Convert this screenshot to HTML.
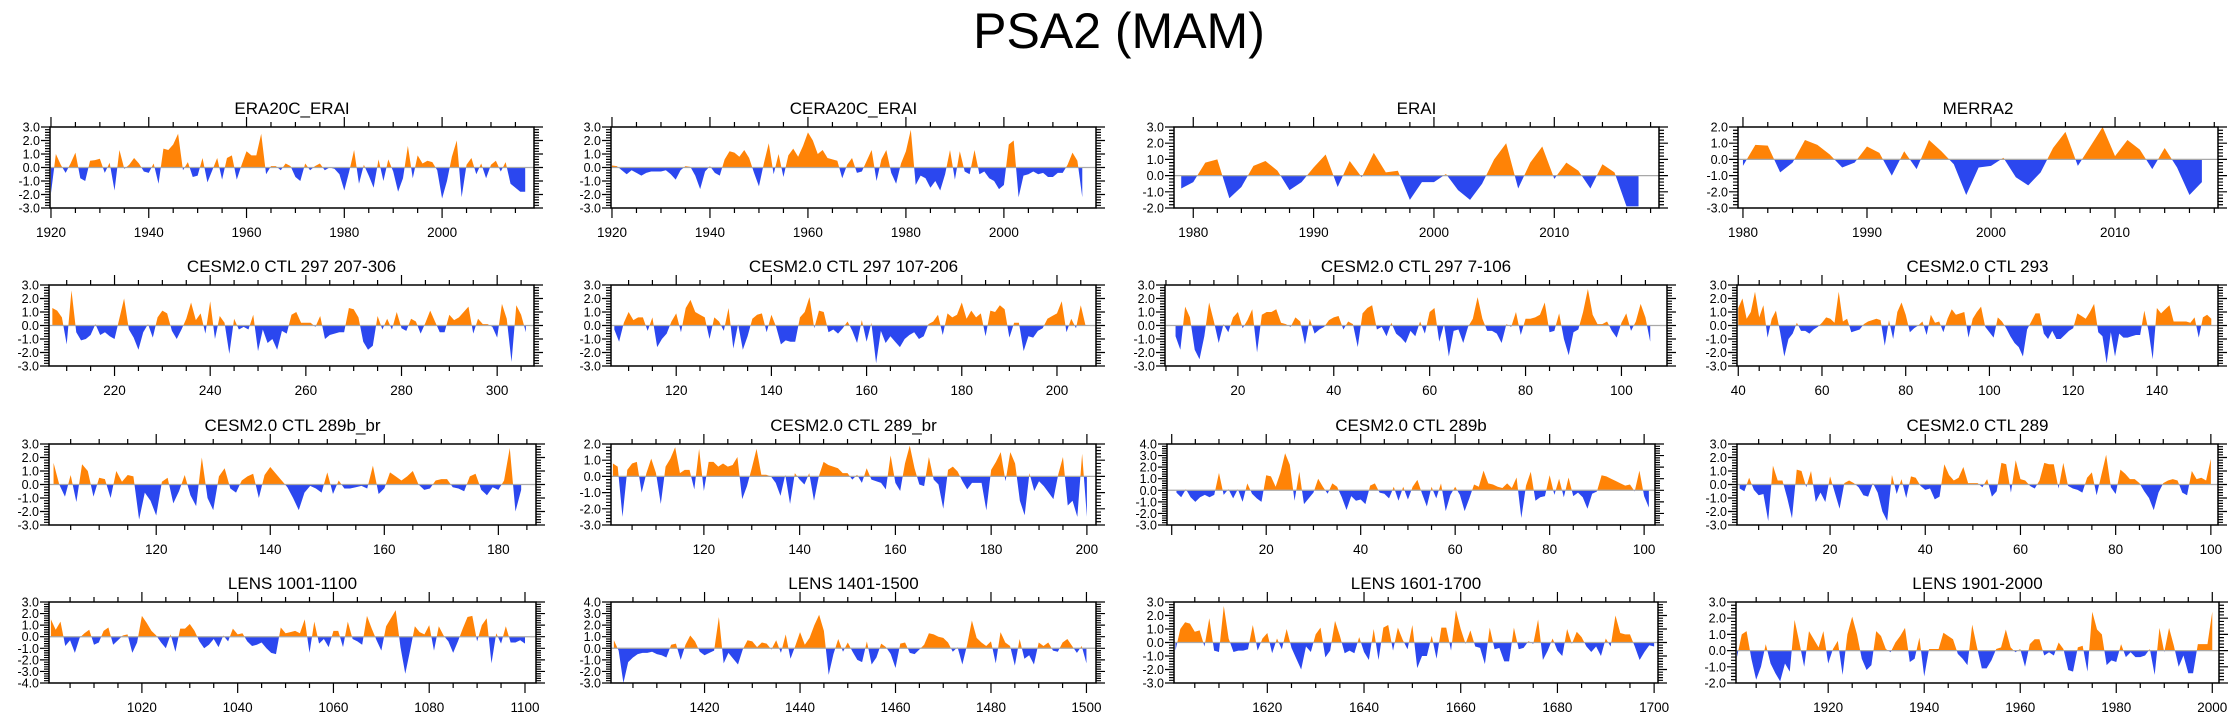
<!DOCTYPE html>
<html><head><meta charset="utf-8"><title>PSA2 (MAM)</title>
<style>html,body{margin:0;padding:0;background:#fff;}svg{display:block;font-family:"Liberation Sans",Arial,sans-serif;}</style>
</head><body>
<svg id="fig" width="2238" height="719" viewBox="0 0 2238 719" xmlns="http://www.w3.org/2000/svg">
<text x="1119" y="48" text-anchor="middle" font-size="50" fill="#000">PSA2 (MAM)</text>
</svg>
<script>
// ---- data arrays (one per panel) ----
const titles = ["ERA20C_ERAI","CERA20C_ERAI","ERAI","MERRA2","CESM2.0 CTL 297 207-306","CESM2.0 CTL 297 107-206","CESM2.0 CTL 297 7-106","CESM2.0 CTL 293","CESM2.0 CTL 289b_br","CESM2.0 CTL 289_br","CESM2.0 CTL 289b","CESM2.0 CTL 289","LENS 1001-1100","LENS 1401-1500","LENS 1601-1700","LENS 1901-2000"];
const starts = [1920,1920,1979,1980,207,107,7,40,102,101,1,1,1001,1401,1601,1901];
const yMins = [-3,-3,-2,-3,-3,-3,-3,-3,-3,-3,-3,-3,-4,-3,-3,-2];
const yMaxs = [3,3,3,2,3,3,3,3,3,2,4,3,3,4,3,3];
const xTicks1 = [1920,1940,1960,1980,2000];
const xTicks2 = [1920,1940,1960,1980,2000];
const xTicks3 = [1980,1990,2000,2010];
const xTicks4 = [1980,1990,2000,2010];
const xTicks5 = [220,240,260,280,300];
const xTicks6 = [120,140,160,180,200];
const xTicks7 = [20,40,60,80,100];
const xTicks8 = [40,60,80,100,120,140];
const xTicks9 = [120,140,160,180];
const xTicks10 = [120,140,160,180,200];
const xTicks11 = [20,40,60,80,100];
const xTicks12 = [20,40,60,80,100];
const xTicks13 = [1020,1040,1060,1080,1100];
const xTicks14 = [1420,1440,1460,1480,1500];
const xTicks15 = [1620,1640,1660,1680,1700];
const xTicks16 = [1920,1940,1960,1980,2000];

const vals1 = [-1.9,1.0,0.2,-0.4,0.3,1.1,-0.8,-1.0,0.5,0.55,0.65,-0.4,0.35,-1.7,1.3,-0.1,0.2,0.7,0.3,-0.3,-0.4,0.3,-1.2,1.4,1.3,1.7,2.5,-0.2,0.4,-0.7,-0.6,0.7,-1.1,-0.2,0.7,-0.9,0.7,0.9,-0.9,0.2,1.2,0.9,0.9,2.5,-0.5,0.1,0.1,-0.2,0.3,0.1,-0.7,-1.0,0.3,-0.2,0.1,0.3,-0.2,0.0,-0.1,-0.5,-1.7,-0.3,1.3,-1.2,0.2,-0.6,-1.5,0.6,-1.0,0.6,-0.3,-1.8,-0.8,1.6,-0.8,0.9,0.3,0.5,0.4,-0.2,-2.3,-1.0,0.8,2.0,-2.2,0.2,0.7,-0.5,0.3,-0.8,0.2,0.5,-0.3,0.4,-1.2,-1.5,-1.8,-1.8];
const vals2 = [0.15,0.1,-0.2,-0.5,-0.2,-0.4,-0.6,-0.4,-0.3,-0.3,-0.3,-0.2,-0.5,-0.9,-0.2,0.1,0.05,-0.6,-1.6,-0.3,0.1,-0.4,-0.6,0.6,1.2,1.1,0.8,1.3,0.7,-0.4,-1.4,0.3,1.8,-0.5,1.0,-0.7,0.9,1.4,0.8,1.6,2.6,2.0,1.0,1.3,0.7,0.6,0.5,-0.8,0.2,0.7,-0.4,-0.3,0.5,1.3,-1.0,0.6,1.3,-0.4,-1.2,0.3,1.2,2.8,-1.3,-0.6,-0.8,-1.5,-1.0,-1.7,-0.5,1.3,-0.9,1.2,-0.3,-0.5,1.3,-0.5,-0.3,-0.8,-1.0,-1.6,-1.3,1.7,2.0,-2.2,-0.6,-0.5,-0.3,-0.5,-0.4,-0.7,-0.7,-0.4,-0.4,0.2,1.1,0.5,-2.2];
const vals3 = [-0.8,-0.4,0.8,1.0,-1.4,-0.7,0.6,0.9,0.3,-0.9,-0.4,0.5,1.3,-0.7,0.9,-0.1,1.4,0.2,0.3,-1.5,-0.4,-0.4,0.1,-0.9,-1.5,-0.5,1.0,2.0,-0.8,0.8,1.8,-0.2,0.8,0.3,-0.8,0.7,0.2,-1.9,-1.9];
const vals4 = [-0.4,0.9,0.85,-0.8,-0.2,1.2,0.9,0.3,-0.5,-0.2,0.8,0.4,-1.0,0.5,-0.6,1.2,0.5,-0.3,-2.2,-0.5,-0.4,0.1,-1.1,-1.6,-0.8,0.7,1.7,-0.4,0.8,2.0,0.2,1.2,0.6,-0.6,0.7,-0.5,-2.2,-1.4];
const vals5 = [1.3,1.1,0.6,-1.4,2.6,-0.5,-1.1,-1.0,-0.7,0.1,-0.7,-0.5,-0.8,-1.0,0.5,2.0,-0.3,-0.9,-1.8,-0.5,0.1,-0.9,0.6,1.1,0.9,-0.4,-1.0,-0.3,0.5,1.7,0.4,0.9,-0.6,1.8,-1.0,0.7,0.2,-2.1,0.5,-0.3,-0.1,-0.3,0.8,-1.9,-0.3,-1.3,-1.0,-1.8,-0.4,-0.6,0.8,1.0,0.2,0.2,0.2,-0.1,0.7,-1.0,-0.7,-0.6,-0.5,-0.5,1.3,1.2,0.6,-1.2,-1.8,-1.5,0.7,-0.3,0.5,-0.3,1.0,-0.2,-0.4,0.5,0.3,-0.6,0.2,1.1,0.3,-0.5,-0.5,0.8,0.4,0.6,1.0,1.4,-0.6,0.5,0.1,0.1,-0.1,-0.9,1.6,0.5,-2.7,1.5,0.8,-0.5];
const vals6 = [-0.3,-1.2,0.2,1.0,0.4,0.6,0.6,-0.4,0.6,-1.6,-1.0,-0.6,0.3,0.9,-0.5,1.3,1.9,1.0,0.8,0.6,-1.0,0.6,0.3,-0.4,1.3,-1.7,0.1,-1.8,-0.8,0.5,0.8,0.9,-0.5,0.8,-0.1,-1.4,-1.1,-1.2,-1.2,0.6,1.0,2.1,-0.2,1.1,1.0,-0.5,-0.3,-0.6,-0.2,0.3,-0.4,-1.3,0.4,-1.2,0.2,-2.8,-0.4,-1.3,-0.8,-1.2,-1.6,-1.0,-0.7,-0.5,-1.0,-0.8,0.1,0.3,0.8,-0.7,0.9,0.6,0.8,1.7,0.5,1.1,0.6,0.9,-0.8,1.1,1.0,1.5,1.2,-0.9,0.2,0.2,-1.9,-0.8,-0.9,-0.4,-0.2,0.5,0.7,0.9,1.8,-0.5,0.5,-0.2,1.5,0.0];
const vals7 = [-0.8,-1.8,1.4,0.6,-1.8,-2.5,-0.8,1.7,0.3,-1.3,0.1,-0.5,0.6,1.0,-0.2,0.4,1.2,-2.0,0.8,1.0,1.0,1.2,0.2,0.1,-0.1,0.6,0.3,-1.4,0.5,-0.6,-0.3,-0.1,0.4,0.6,0.7,-0.3,0.3,0.1,-1.6,0.9,1.3,1.5,-0.3,-0.1,-0.8,0.2,-0.6,-0.9,-1.3,-0.4,-0.8,0.3,-0.6,1.0,1.3,-1.2,0.1,-2.3,-0.4,-0.3,-1.3,-0.1,0.5,2.1,0.5,-0.4,-0.4,-0.6,-1.3,0.1,-0.1,1.0,-0.7,0.5,0.5,0.6,0.8,1.7,-0.5,-0.4,0.9,-1.0,-2.2,-0.5,-0.3,1.0,2.7,0.8,0.1,0.1,0.3,-0.4,-0.9,0.2,0.9,-0.4,0.3,1.6,0.6,-1.2];
const vals8 = [1.3,2.0,0.5,1.0,2.5,0.6,1.5,-0.9,0.5,1.1,-0.5,-2.3,-1.0,-0.6,0.2,-0.4,-0.4,-0.6,-0.3,-0.1,0.2,0.6,0.5,0.2,2.5,0.3,0.5,-0.5,-0.4,-0.3,0.1,0.3,0.4,0.5,0.4,-1.5,0.4,-1.0,1.0,1.7,0.8,-0.5,-0.2,0.0,0.3,-0.7,0.8,0.2,0.3,-0.5,0.5,1.2,0.8,0.9,1.0,-0.9,0.5,1.0,1.4,-0.1,-0.5,-0.9,0.6,0.3,-0.2,-0.8,-1.3,-1.6,-2.3,-0.3,0.3,0.9,0.9,-0.6,-1.0,-0.4,-1.0,-1.0,-0.7,-0.4,-0.2,0.9,0.7,0.5,1.0,1.6,-0.5,-0.8,-2.8,-0.5,-2.3,-0.6,-0.9,-0.9,-0.8,-0.7,-0.7,1.1,-0.4,-2.5,1.3,0.9,1.2,1.5,0.3,0.3,0.3,0.3,0.2,0.6,-0.9,0.6,0.8,0.5];
const vals9 = [1.6,0.0,-0.9,0.7,-1.3,1.5,1.0,-0.9,0.5,0.4,-1.0,1.0,0.2,0.7,0.6,-2.6,-0.6,-1.2,-2.3,0.2,0.5,-1.4,-0.5,0.7,-0.8,-1.6,2.0,-1.0,-1.9,0.6,1.2,-0.3,-0.6,0.3,0.6,0.8,-1.0,0.7,1.3,0.8,0.3,-0.2,-1.0,-1.9,-0.6,-0.1,-0.3,-0.6,0.9,-0.7,0.3,-0.3,-0.3,-0.2,-0.1,-0.3,1.4,-0.7,-0.3,0.9,0.6,0.3,0.6,1.0,0.0,-0.4,-0.3,0.3,0.4,0.4,-0.2,-0.3,-0.5,0.6,0.8,-0.4,-0.8,-0.2,-0.4,0.3,2.7,-2.0,-0.4];
const vals10 = [0.8,0.6,-2.5,0.4,0.8,0.9,-1.0,0.2,1.1,0.2,-1.7,0.6,1.1,1.8,0.2,0.4,0.4,-0.8,1.7,-0.9,0.9,0.9,0.6,0.8,0.6,0.7,1.2,-1.4,-0.6,0.5,1.7,0.1,0.1,0.0,-0.4,-1.2,0.1,-1.7,0.2,-0.2,-0.5,0.2,-1.5,0.0,0.9,0.7,0.6,0.5,0.2,0.2,-0.2,0.1,-0.4,0.5,-0.2,-0.3,-0.4,-0.8,1.3,-0.4,-0.9,0.8,1.9,0.5,-0.5,-0.6,1.2,-0.2,-0.5,-2.0,0.4,0.6,0.3,-0.3,-0.8,-0.4,-0.4,-0.4,-2.1,0.4,0.9,1.5,-0.3,1.5,0.8,-1.5,-2.4,0.2,-0.9,-0.3,-0.6,-1.0,-1.4,0.1,1.2,-1.8,-1.5,-2.5,1.4,-2.5];
const vals11 = [-0.2,-0.6,0.1,-0.6,-1.0,-0.6,-0.4,-0.6,-0.4,1.5,-0.4,0.1,-0.7,0.1,-1.0,0.6,-0.3,-0.7,-1.0,1.3,1.2,0.3,1.5,3.2,2.2,-0.9,1.6,-1.2,-0.7,-0.2,1.0,0.3,-0.3,0.6,0.3,-0.6,-1.7,-0.5,-0.9,-0.8,-1.2,0.4,0.6,-0.2,-0.3,-0.7,0.3,-0.9,0.3,-0.8,0.3,0.9,-0.3,-1.4,0.3,-0.7,0.6,-1.8,-0.4,0.3,-0.4,-1.8,-0.7,0.5,0.3,1.7,0.6,0.5,0.3,0.2,0.6,0.2,1.1,-2.4,0.4,1.6,-0.9,-0.6,-0.5,1.3,-0.4,1.0,-0.6,1.1,-0.5,-0.2,-0.6,-1.6,-0.3,-0.1,1.3,1.2,1.0,0.8,0.6,0.4,0.5,-0.1,1.7,-0.5,-1.5];
const vals12 = [-0.3,-0.5,0.5,-0.4,-0.8,-0.7,-2.7,1.4,0.3,0.3,-1.0,-2.5,1.1,1.0,-0.2,1.0,-1.3,-0.6,-1.3,0.6,-0.6,-1.8,0.1,0.3,0.1,-0.2,-0.8,-0.9,0.1,-0.6,-2.0,-2.7,0.7,-0.7,0.4,-1.0,0.6,0.5,-0.1,-0.4,-0.3,-1.1,-0.9,1.5,0.7,0.3,0.5,1.3,0.1,0.1,0.1,-0.2,0.4,-0.9,-0.5,1.6,1.5,-0.6,1.8,0.4,0.3,-0.1,-0.3,0.3,1.6,1.5,1.5,-0.3,1.6,-0.1,-0.3,-0.4,-0.6,0.5,0.9,-0.8,0.7,2.2,-0.2,-0.7,1.1,0.8,0.4,0.4,0.1,-0.5,-1.0,-1.9,-0.6,0.1,0.3,0.4,0.3,-0.6,-0.8,1.0,0.4,0.5,0.3,1.9];
const vals13 = [1.5,0.6,1.3,-0.8,-0.3,-1.4,-0.1,0.3,0.6,-0.7,-0.5,0.5,0.8,-0.7,-0.3,0.1,0.2,-1.4,-0.5,1.8,1.2,0.5,0.1,-0.5,-1.0,0.2,-1.3,0.7,0.7,1.1,0.5,-0.4,-1.0,-0.7,-0.2,-0.9,0.1,-0.4,0.7,0.2,0.3,-0.4,-0.8,-0.7,-0.5,-1.0,-1.4,-1.5,0.8,0.3,0.4,0.5,0.3,1.5,-1.4,1.3,-0.6,-0.2,-0.9,0.5,0.5,-0.9,1.3,-0.2,-0.4,-0.7,1.8,0.7,-0.3,-1.2,0.9,1.6,2.3,-0.9,-3.2,-1.2,0.9,0.4,0.2,1.0,-1.2,0.9,0.1,-0.4,-1.4,-0.4,0.7,1.7,1.8,-0.4,1.0,1.6,-2.3,0.3,-0.6,0.9,-0.5,-0.5,-0.3,-0.6];
const vals14 = [0.7,-0.2,-3.0,-1.2,-0.8,-0.5,-0.4,-0.4,-0.3,-0.5,-0.6,-0.8,0.3,0.4,-1.0,0.3,1.1,0.6,-0.3,-0.6,-0.4,-0.2,2.7,-1.3,-0.4,-0.9,-1.4,-0.1,0.7,0.6,0.1,0.5,0.4,-0.1,0.7,-0.4,1.2,-0.9,0.2,1.4,0.3,0.9,2.0,2.9,1.5,-2.3,-0.5,0.8,-0.3,0.5,-0.3,-1.0,-1.2,0.6,-1.4,-0.8,0.4,0.1,-0.5,-1.7,0.4,0.5,-0.4,-0.5,-0.1,0.3,1.3,1.2,1.0,0.9,0.5,-0.3,0.1,-1.4,0.3,2.4,0.9,0.5,0.2,0.6,-1.3,1.4,0.5,0.2,-1.5,0.8,-0.9,-0.6,-1.4,0.5,0.2,0.5,-0.2,-0.3,0.5,0.8,0.2,-0.4,0.2,-1.3];
const vals15 = [-0.6,1.0,1.5,1.4,0.8,0.9,-0.3,1.8,-0.6,-0.7,2.7,0.3,-0.7,-0.6,-0.6,-0.5,1.3,-0.6,0.3,0.7,-0.8,0.3,-0.5,1.0,-0.4,-1.2,-2.0,-0.3,-0.7,0.6,1.1,-1.1,-0.6,1.6,0.5,-0.8,-0.6,-0.8,0.4,-0.7,-1.3,1.0,-1.3,1.1,1.3,-0.6,1.1,0.2,-0.5,1.3,-1.9,-1.0,-1.0,0.5,-1.2,1.1,1.1,-0.6,2.4,1.0,-0.1,0.9,-0.3,-0.4,-1.6,1.1,-0.5,-0.4,-1.4,-1.4,1.1,-0.5,-0.4,0.1,-0.1,1.7,-1.3,-0.6,0.3,-0.6,-1.0,1.0,-0.1,0.8,0.4,-0.3,-0.7,-0.3,-1.0,0.3,-0.3,2.0,0.7,0.6,0.6,-0.3,-1.3,-0.7,-0.2,-0.3];
const vals16 = [-0.4,1.0,1.2,-0.5,-1.8,-1.0,0.4,-0.8,-1.4,-1.9,-0.8,-1.3,1.9,0.5,-1.0,1.2,0.7,0.2,1.2,-0.8,0.1,0.6,-1.5,1.0,2.1,1.0,-0.5,-1.2,-0.9,1.2,0.9,0.1,-0.1,0.5,0.9,1.4,-0.7,-0.5,0.8,-1.6,0.1,0.1,0.1,1.1,0.9,0.7,-0.2,-0.5,-0.9,1.6,0.2,-1.1,-1.1,-0.6,0.1,0.2,1.3,0.2,-0.1,0.1,-1.0,0.4,0.7,0.7,-0.3,-0.1,-0.3,0.5,0.1,-1.2,-1.3,0.2,0.3,-1.3,2.4,1.3,1.0,-0.9,-0.6,-0.7,0.4,-0.4,-0.1,-0.4,-0.4,-0.3,0.1,-1.5,1.4,-0.1,1.4,0.3,-1.0,-0.3,-1.4,-1.4,0.4,0.4,0.4,2.4];

// ---- layout (pixel geometry, not data) ----
const rowTops = [127,285,444,602];
const PH = 81;
const layout = [
 {bx:[50,534],xr:[1919.8,2018.8],minor:5},{bx:[611,1096],xr:[1919.8,2018.8],minor:5},
 {bx:[1174,1659],xr:[1978.4,2018.7],minor:2},{bx:[1738,2218],xr:[1979.6,2018.3],minor:2},
 {bx:[49,534],xr:[206.3,307.7],minor:5},{bx:[611,1096],xr:[106.3,208.2],minor:5},
 {bx:[1165,1667],xr:[4.8,109.5],minor:5},{bx:[1737,2218],xr:[39.7,154.6],minor:5},
 {bx:[49,536],xr:[101.2,186.6],minor:5},{bx:[611,1096],xr:[100.6,201.9],minor:5},
 {bx:[1167,1655],xr:[-1.0,102.3],minor:5},{bx:[1737,2218],xr:[0.45,101.5],minor:5},
 {bx:[49,536],xr:[1000.6,1102.3],minor:5},{bx:[611,1096],xr:[1400.4,1502],minor:5},
 {bx:[1174,1658],xr:[1600.7,1700.8],minor:5},{bx:[1736,2219],xr:[1900.8,2001.4],minor:5}
];
const allVals = [vals1,vals2,vals3,vals4,vals5,vals6,vals7,vals8,vals9,vals10,vals11,vals12,vals13,vals14,vals15,vals16];
const allTicks = [xTicks1,xTicks2,xTicks3,xTicks4,xTicks5,xTicks6,xTicks7,xTicks8,xTicks9,xTicks10,xTicks11,xTicks12,xTicks13,xTicks14,xTicks15,xTicks16];

const NS = "http://www.w3.org/2000/svg";
const svg = document.getElementById('fig');
function mk(tag, attrs, parent){
  const e = document.createElementNS(NS, tag);
  for (const k in attrs) e.setAttribute(k, attrs[k]);
  (parent||svg).appendChild(e);
  return e;
}
const defs = mk('defs', {});

for (let i = 0; i < 16; i++) {
  const L = layout[i];
  const x0 = L.bx[0], x1 = L.bx[1];
  const top = rowTops[Math.floor(i/4)], bot = top + PH;
  const xmin = L.xr[0], xmax = L.xr[1];
  const ymin = yMins[i], ymax = yMaxs[i];
  const vals = allVals[i], start = starts[i];
  const sx = v => x0 + (v - xmin) / (xmax - xmin) * (x1 - x0);
  const sy = v => top + (ymax - v) / (ymax - ymin) * PH;

  const g = mk('g', {});
  
  

  const t = mk('text', {x:(x0+x1)/2, y:top-13, 'text-anchor':'middle', 'font-size':17, fill:'#000'}, g);
  t.textContent = titles[i];
  
  

  // clip paths
  const y0 = sy(0);
  const cpA = mk('clipPath', {id:'ca'+i}, defs);
  mk('rect', {x:x0, y:top, width:x1-x0, height:y0-top}, cpA);
  const cpB = mk('clipPath', {id:'cb'+i}, defs);
  mk('rect', {x:x0, y:y0, width:x1-x0, height:bot-y0}, cpB);

  let d = 'M' + sx(start).toFixed(2) + ',' + y0.toFixed(2);
  for (let k = 0; k < vals.length; k++) d += 'L' + sx(start+k).toFixed(2) + ',' + sy(vals[k]).toFixed(2);
  d += 'L' + sx(start+vals.length-1).toFixed(2) + ',' + y0.toFixed(2) + 'Z';
  const pa = mk('path', {d:d, fill:'#ff8306', 'clip-path':'url(#ca'+i+')'}, g);
  
  
  const pb = mk('path', {d:d, fill:'#2b47ef', 'clip-path':'url(#cb'+i+')'}, g);
  
  

  const zl = mk('line', {x1:x0, x2:x1, y1:y0, y2:y0, stroke:'#a8a8a8', 'stroke-width':1.2}, g);
  
  

  const fr = mk('rect', {x:x0, y:top, width:x1-x0, height:PH, fill:'none', stroke:'#000', 'stroke-width':1.5}, g);
  
  

  // y ticks
  let tk = '';
  for (let k = Math.round(ymin*5); k <= Math.round(ymax*5); k++) {
    const yy = sy(k/5);
    const len = (k % 5 === 0) ? 9 : 5;
    tk += 'M'+(x0-len)+','+yy.toFixed(2)+'H'+x0+'M'+x1+','+yy.toFixed(2)+'H'+(x1+len);
  }
  // x ticks
  const ticks = allTicks[i];
  const majStep = ticks[1]-ticks[0];
  for (let v = Math.ceil(xmin/L.minor)*L.minor; v <= xmax; v += L.minor) {
    const xx = sx(v);
    const len = (Math.abs(((v - ticks[0]) % majStep)) < 1e-6) ? 10 : 5;
    tk += 'M'+xx.toFixed(2)+','+top+'V'+(top-len)+'M'+xx.toFixed(2)+','+bot+'V'+(bot+len);
  }
  const tp = mk('path', {d:tk, stroke:'#000', 'stroke-width':1.2, fill:'none'}, g);
  
  

  for (let v = ymin; v <= ymax; v++) {
    const yl = mk('text', {x:x0-10, y:sy(v)+4.5, 'text-anchor':'end', 'font-size':12.5, fill:'#000'}, g);
    yl.textContent = v.toFixed(1);
    
    
  }
  for (const v of ticks) {
    const xl = mk('text', {x:sx(v), y:bot+29, 'text-anchor':'middle', 'font-size':13.5, fill:'#000'}, g);
    xl.textContent = String(v);
    
    
  }
}
</script>
</body></html>
